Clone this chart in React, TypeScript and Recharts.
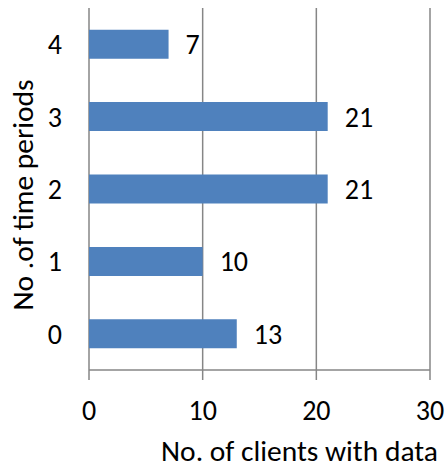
import React from "react";
import {
  BarChart,
  Bar,
  XAxis,
  YAxis,
  CartesianGrid,
  LabelList,
  Label,
} from "recharts";

// Number of time periods (category) and count of clients with data
const periods = ["0", "1", "2", "3", "4"];
const clientCounts = [13, 10, 21, 21, 7];
const xTicks = [0, 10, 20, 30];
const bandEdges = [0, 1, 2, 3, 4, 5];

const data = periods.map((p, i) => ({ period: p, clients: clientCounts[i] }));

const FONT = "Carlito, Calibri, 'Liberation Sans', Arial, sans-serif";
const AXIS_GRAY = "#868686";
const BAR_BLUE = "#4F81BD";
const TICK_SIZE = 28;
const TITLE_SIZE = 29.5;

export default function App() {
  return (
    <div style={{ position: "absolute", left: 0, top: 0, background: "#fff" }}>
      <BarChart
        width={446}
        height={466}
        data={data}
        layout="vertical"
        margin={{ top: 8, right: 16, bottom: 0, left: 0 }}
        barCategoryGap="30%"
        style={{ fontFamily: FONT }}
      >
        <CartesianGrid
          horizontal={false}
          stroke={AXIS_GRAY}
          strokeWidth={1.5}
          yAxisId="cat"
        />
        <XAxis
          type="number"
          domain={[0, 30]}
          ticks={xTicks}
          height={96}
          axisLine={{ stroke: AXIS_GRAY, strokeWidth: 1.5 }}
          tickLine={{ stroke: AXIS_GRAY, strokeWidth: 1.5 }}
          tickSize={10}
          tickMargin={20}
          tick={{ fill: "#000", fontSize: TICK_SIZE, fontFamily: FONT }}
        >
          <Label
            content={(props: any) => {
              const vb = props.viewBox || {};
              return (
                <text
                  x={vb.x + vb.width / 2 + 40}
                  y={461}
                  textAnchor="middle"
                  fill="#000"
                  fontSize={TITLE_SIZE}
                  fontFamily={FONT}
                >
                  No. of clients with data
                </text>
              );
            }}
          />
        </XAxis>
        {/* tick marks between categories */}
        <YAxis
          yAxisId="edges"
          type="number"
          domain={[0, 5]}
          ticks={bandEdges}
          width={0}
          axisLine={{ stroke: AXIS_GRAY, strokeWidth: 1.5 }}
          tickLine={{ stroke: AXIS_GRAY, strokeWidth: 1.5 }}
          tickSize={9}
          tick={() => <g />}
        />
        <YAxis
          yAxisId="cat"
          type="category"
          dataKey="period"
          reversed
          width={89}
          axisLine={false}
          tickLine={false}
          tickSize={9}
          tickMargin={18}
          tick={{ fill: "#000", fontSize: TICK_SIZE, fontFamily: FONT }}
        >
          <Label
            content={(props: any) => {
              const vb = props.viewBox || {};
              const cy = vb.y + vb.height / 2 + 6;
              return (
                <text
                  x={33}
                  y={cy}
                  transform={`rotate(-90, 33, ${cy})`}
                  textAnchor="middle"
                  fill="#000"
                  fontSize={TITLE_SIZE}
                  fontFamily={FONT}
                >
                  No .of time periods
                </text>
              );
            }}
          />
        </YAxis>
        <Bar
          yAxisId="cat"
          dataKey="clients"
          fill={BAR_BLUE}
          isAnimationActive={false}
        >
          <LabelList
            dataKey="clients"
            position="right"
            offset={17}
            fill="#000"
            fontSize={TICK_SIZE}
            fontFamily={FONT}
          />
        </Bar>
      </BarChart>
    </div>
  );
}
